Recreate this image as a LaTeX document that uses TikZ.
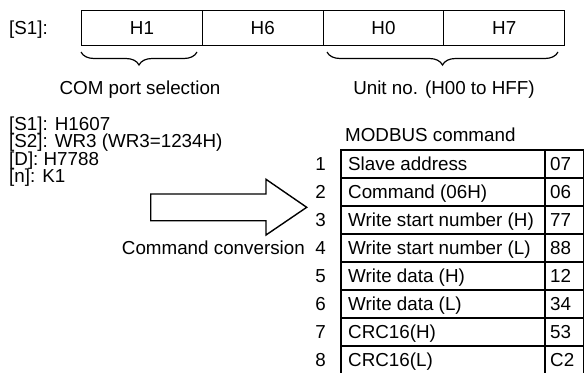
\documentclass[tikz,border=0pt]{standalone}
\usepackage{fontspec}
\setmainfont{Liberation Sans}
\usetikzlibrary{decorations.pathreplacing}
\begin{document}
\begin{tikzpicture}[x=1pt,y=-1pt,
  font=\fontsize{18.8}{21}\selectfont,
  txt/.style={inner sep=0pt, anchor=base west},
  cell/.style={draw, line width=1.2pt, minimum width=120.75pt, minimum height=35pt, inner sep=0pt, anchor=north west},
  tab/.style={line width=1.8pt},
  bracestyle/.style={line width=1.2pt, decorate, decoration={brace, amplitude=13pt}},
  arrowshape/.style={line width=1.4pt, line join=miter}]
\useasboundingbox (0,0) rectangle (585,372);
% top register
\node[txt] (s1lab) at (9,34.7) {[S1]:};
\node[cell] (c1) at (81,10) {H1};
\node[cell] (c2) at (201.75,10) {H6};
\node[cell] (c3) at (322.5,10) {H0};
\node[cell] (c4) at (443.25,10) {H7};
% braces
\coordinate (b1a) at (197,52);
\coordinate (b1b) at (81,52);
\coordinate (b2a) at (558,52);
\coordinate (b2b) at (327,52);
\draw[bracestyle] (b1a) -- (b1b);
\draw[bracestyle] (b2a) -- (b2b);
\node[inner sep=0pt] (com) at (140,90) {COM port selection};
\node[inner sep=0pt] (unit) at (444,90) {Unit no. (H00 to HFF)};
% operands
\node[txt] (o1) at (9,130) {[S1]: H1607};
\node[txt] (o2) at (9,147.5) {[S2]: WR3 (WR3=1234H)};
\node[txt] (o3) at (9,165) {[D]: H7788};
\node[txt] (o4) at (9,182.5) {[n]: K1};
% big arrow
\draw[arrowshape] (150.7,194) -- (266,194) -- (266,179.3) -- (306.7,207.3)
  -- (266,235) -- (266,220.7) -- (150.7,220.7) -- cycle;
\node[txt, anchor=base east] (conv) at (305,254.7) {Command conversion};
% table
\node[txt] (mod) at (345,141.7) {MODBUS command};
\draw[tab] (341,150) rectangle (583.5,374);
\foreach \k in {1,...,7} {\draw[tab] (341,150+28*\k) -- (583.5,150+28*\k);}
\draw[tab] (545,150) -- (545,374);
\foreach \i/\lab/\val in {1/Slave address/07, 2/Command (06H)/06,
   3/Write start number (H)/77, 4/Write start number (L)/88,
   5/Write data (H)/12, 6/Write data (L)/34, 7/CRC16(H)/53, 8/CRC16(L)/C2} {
  \pgfmathsetmacro\yb{150+28*(\i-0.5)+6.7}
  \node[txt, anchor=base east] (n\i) at (326,\yb) {\i};
  \node[txt] (l\i) at (348,\yb) {\lab};
  \node[txt] (v\i) at (550,\yb) {\val};
}
\end{tikzpicture}
\end{document}
